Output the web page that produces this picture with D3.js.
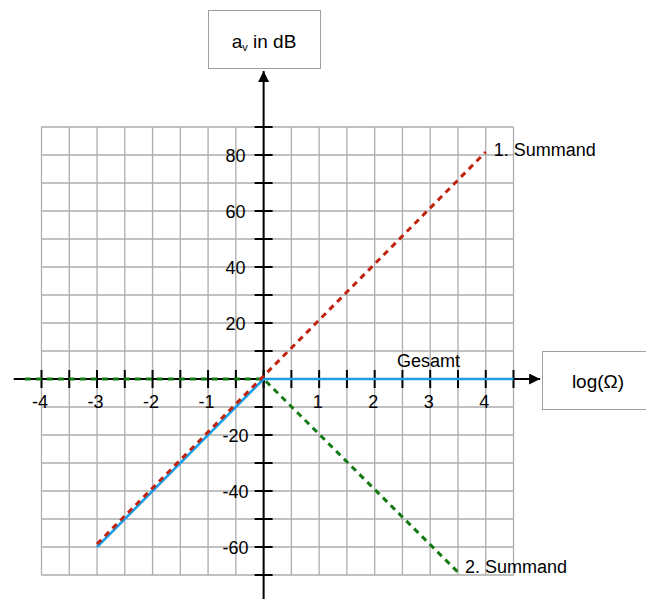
<!DOCTYPE html>
<html>
<head>
<meta charset="utf-8">
<script src="https://cdn.jsdelivr.net/npm/d3@7"></script>
<style>
  html, body { margin: 0; padding: 0; background: #fff; }
  svg { display: block; font-family: "Liberation Sans", Arial, sans-serif; }
</style>
</head>
<body>
<svg id="chart" width="646" height="599"></svg>
<script>
// Bode magnitude plot: two asymptotic summands and their sum (Gesamt)
const xDomain = [-4, 4.5];          // log(Ω) grid extent
const yDomain = [-70, 90];          // dB grid extent
const xTickLabels = [-4, -3, -2, -1, 1, 2, 3, 4];
const yTickLabels = [-60, -40, -20, 20, 40, 60, 80];

// 1. Summand: +20 dB/decade through the origin
const summand1X = [-3, 4];
const summand1Y = [-60, 80];
// 2. Summand: 0 dB up to Ω = 1, then -20 dB/decade
const summand2X = [-4.3, 0, 3.5];
const summand2Y = [0, 0, -69];
// Gesamt: sum of both
const gesamtX = [-3, 0, 4.5];
const gesamtY = [-60, 0, 0];

const seriesNames = ["1. Summand", "2. Summand", "Gesamt"];

const svg = d3.select("#chart");
const x = d3.scaleLinear().domain(xDomain).range([41.5, 513.5]);
const y = d3.scaleLinear().domain(yDomain).range([575, 127]);

const zip = (xs, ys) => xs.map((v, i) => [v, ys[i]]);
const line = d3.line().x(d => x(d[0])).y(d => y(d[1]));
const plainNumber = d => String(d);   // keep ASCII hyphen for negatives

// grid: every 0.5 decade and every 10 dB
const gridX = d3.range(xDomain[0], xDomain[1] + 0.001, 0.5);
const gridY = d3.range(yDomain[0], yDomain[1] + 0.001, 10);
const grid = svg.append("g").attr("stroke", "#adadad").attr("stroke-width", 1.3);
grid.selectAll("line.v").data(gridX).join("line").attr("class", "v")
  .attr("x1", d => x(d)).attr("x2", d => x(d))
  .attr("y1", y(yDomain[0])).attr("y2", y(yDomain[1]));
grid.selectAll("line.h").data(gridY).join("line").attr("class", "h")
  .attr("y1", d => y(d)).attr("y2", d => y(d))
  .attr("x1", x(xDomain[0])).attr("x2", x(xDomain[1]));

// axes with arrows
const defs = svg.append("defs");
defs.append("marker").attr("id", "arrow")
  .attr("viewBox", "0 0 10 10").attr("refX", 10).attr("refY", 5)
  .attr("markerWidth", 6).attr("markerHeight", 5.5).attr("markerUnits", "strokeWidth")
  .attr("orient", "auto")
  .append("path").attr("d", "M0,0 L10,5 L0,10 Z").attr("fill", "#000");

const axes = svg.append("g").attr("stroke", "#000").attr("stroke-width", 2);
axes.append("line")
  .attr("x1", x(-4.5)).attr("x2", x(4.98)).attr("y1", y(0)).attr("y2", y(0))
  .attr("marker-end", "url(#arrow)");
axes.append("line")
  .attr("x1", x(0)).attr("x2", x(0)).attr("y1", y(-80)).attr("y2", y(110))
  .attr("marker-end", "url(#arrow)");

// cross ticks on both axes
axes.selectAll("line.tx").data(gridX).join("line").attr("class", "tx")
  .attr("x1", d => x(d)).attr("x2", d => x(d))
  .attr("y1", y(0) - 9).attr("y2", y(0) + 9);
axes.selectAll("line.ty").data(gridY).join("line").attr("class", "ty")
  .attr("y1", d => y(d)).attr("y2", d => y(d))
  .attr("x1", x(0) - 9).attr("x2", x(0) + 9);

// tick labels through d3 axes (tick marks hidden)
const xLab = svg.append("g")
  .attr("transform", `translate(0,${y(0) + 16})`)
  .call(d3.axisBottom(x).tickValues(xTickLabels).tickSize(0).tickPadding(0).tickFormat(plainNumber));
xLab.select(".domain").remove();
xLab.selectAll("text").attr("font-size", 18).attr("fill", "#000")
  .attr("font-family", "Liberation Sans, Arial, sans-serif")
  .attr("dx", -2).attr("dy", "0.72em");

const yLab = svg.append("g")
  .attr("transform", `translate(${x(0) - 28},0)`)
  .call(d3.axisLeft(y).tickValues(yTickLabels).tickSize(0).tickPadding(0).tickFormat(plainNumber));
yLab.select(".domain").remove();
yLab.selectAll("text").attr("font-size", 18).attr("fill", "#000")
  .attr("font-family", "Liberation Sans, Arial, sans-serif")
  .attr("text-anchor", "middle").attr("dy", "0.36em");

// curves
const curves = svg.append("g").attr("fill", "none");
curves.append("path").datum(zip(gesamtX, gesamtY))
  .attr("d", line).attr("stroke", "#1a9fe8").attr("stroke-width", 2.6);
curves.append("path").datum(zip(summand2X, summand2Y))
  .attr("d", line).attr("stroke", "#137a13").attr("stroke-width", 3)
  .attr("stroke-dasharray", "6,5");
curves.append("path").datum(zip(summand1X, summand1Y))
  .attr("d", line).attr("stroke", "#c0230d").attr("stroke-width", 3)
  .attr("stroke-dasharray", "6,5")
  .attr("transform", "translate(0,-3)");

// series labels
const labels = svg.append("g").attr("font-size", 18).attr("fill", "#000");
labels.append("text").attr("x", x(summand1X[1]) + 8).attr("y", y(summand1Y[1]) + 1).text(seriesNames[0]);
labels.append("text").attr("x", x(summand2X[2]) + 7).attr("y", y(summand2Y[2]) + 1).text(seriesNames[1]);
labels.append("text").attr("x", x(2.4)).attr("y", y(0) - 12).text(seriesNames[2]);

// axis title boxes
const boxes = svg.append("g");
boxes.append("rect").attr("x", 208.5).attr("y", 10.5).attr("width", 112).attr("height", 58)
  .attr("fill", "#fff").attr("stroke", "#a0a0a0").attr("stroke-width", 1);
const yt = boxes.append("text").attr("x", 264).attr("y", 47.5).attr("text-anchor", "middle")
  .attr("font-size", 19).attr("fill", "#000");
yt.append("tspan").text("a");
yt.append("tspan").attr("font-size", 11).attr("dy", 3).text("v");
yt.append("tspan").attr("dy", -3).text(" in dB");

boxes.append("rect").attr("x", 542.5).attr("y", 351.5).attr("width", 120).attr("height", 58)
  .attr("fill", "#fff").attr("stroke", "#a0a0a0").attr("stroke-width", 1);
boxes.append("text").attr("x", 598).attr("y", 387.5).attr("text-anchor", "middle")
  .attr("font-size", 19).attr("fill", "#000").text("log(Ω)");
</script>
</body>
</html>
